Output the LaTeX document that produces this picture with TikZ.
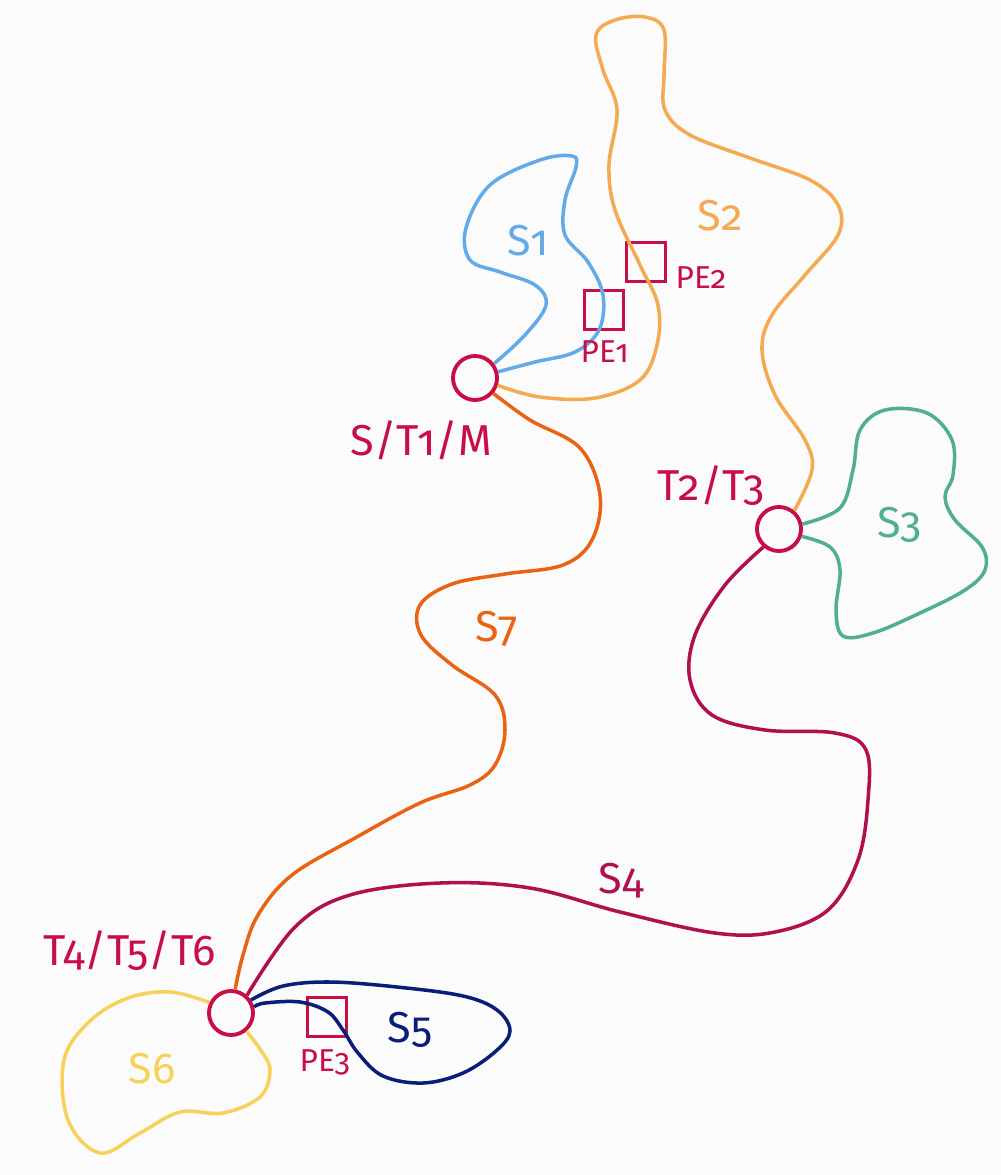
\documentclass[tikz,border=0pt]{standalone}
\usepackage{fontspec}
\setmainfont{Fira Sans}[Numbers=OldStyle]
\usetikzlibrary{positioning}
\definecolor{pered}{RGB}{200,14,70}
\definecolor{sfour}{RGB}{176,16,80}
\definecolor{sone}{RGB}{100,170,230}
\definecolor{stwo}{RGB}{244,170,80}
\definecolor{sthree}{RGB}{80,175,145}
\definecolor{sfive}{RGB}{10,30,120}
\definecolor{ssix}{RGB}{247,210,90}
\definecolor{sseven}{RGB}{232,100,20}
\definecolor{bgcol}{RGB}{251,251,251}

\tikzset{
  hub/.style={circle, draw=pered, line width=1.1pt, minimum size=0.44cm, inner sep=0pt},
  pebox/.style={rectangle, draw=pered, line width=0.9pt, minimum size=0.39cm, inner sep=0pt},
  seg/.style={line width=1pt, smooth, tension=0.6},
  biglbl/.style={anchor=base west, inner sep=0pt, font=\fontsize{12.3}{14}\selectfont},
  smalllbl/.style={anchor=base west, inner sep=0pt, text=pered, font=\fontsize{9}{11}\selectfont}
}

\begin{document}
\begin{tikzpicture}[x=0.01cm, y=-0.01cm]
\fill[bgcol] (0,0) rectangle (1001,1175);
\useasboundingbox (0,0) rectangle (1001,1175);

% hubs and process equipment
\node[hub] (stm) at (475,378) {};
\node[hub] (ttwo) at (779,529) {};
\node[hub] (tfour) at (231,1013) {};
\node[pebox] (peone) at (604,310) {};
\node[pebox] (petwo) at (646,262) {};
\node[pebox] (pethree) at (327,1017) {};

% segments
\draw[seg, sone] plot coordinates {(stm.37) (525,335) (546,305) (535,285) (500,272) (470,260) (466,228) (490,185) (540,160) (572,156) (576,167) (565,200) (565,235) (588,262) (603,295) (599,330) (575,352) (535,362) (stm.15)};
\draw[seg, stwo] plot coordinates {(stm.-18) (540,397) (595,398) (640,380) (657,345) (658,305) (640,265) (615,210) (609,165) (617,110) (603,70) (596,35) (615,20) (645,17) (664,30) (664,75) (665,110) (690,135) (750,158) (810,180) (838,205) (838,235) (805,275) (772,315) (762,350) (775,395) (805,440) (812,470) (ttwo.50)};
\draw[seg, sthree] plot coordinates {(ttwo.12) (840,508) (853,470) (860,430) (885,410) (927,413) (952,440) (953,475) (945,497) (955,520) (982,547) (985,570) (965,590) (920,613) (873,633) (843,636) (836,610) (840,570) (830,547) (ttwo.-18)};
\draw[seg, sfour] plot coordinates {(ttwo.229) (725,585) (695,635) (690,680) (712,715) (765,730) (835,733) (866,750) (868,800) (858,860) (828,910) (775,932) (715,933) (620,912) (530,888) (440,883) (350,895) (295,927) (tfour.48)};
\draw[seg, sseven] plot coordinates {(stm.-40) (530,420) (580,448) (600,495) (592,540) (563,565) (505,574) (452,584) (420,605) (421,635) (452,665) (495,695) (505,730) (495,765) (470,785) (420,803) (355,838) (292,875) (258,915) (243,955) (tfour.80)};
\draw[seg, sfive] plot coordinates {(tfour.33) (283,986) (330,982) (397,987) (463,996) (497,1010) (510,1031) (496,1051) (463,1073) (423,1083) (383,1076) (358,1053) (343,1030) (328,1012) (300,1002) (265,1003) (tfour.15)};
\draw[seg, ssix] plot coordinates {(tfour.154) (170,992) (128,998) (90,1021) (64,1060) (68,1120) (100,1153) (140,1133) (180,1112) (223,1113) (260,1097) (270,1070) (260,1049) (tfour.-50)};

% labels
\node[biglbl, text=sone] (lone) at (507,255) {S1};
\node[biglbl, text=stwo] (ltwo) at (697,230) {S2};
\node[biglbl, text=sthree] (lthree) at (877,537) {S3};
\node[biglbl, text=sfour] (lfour) at (598,893) {S4};
\node[biglbl, text=sfive] (lfive) at (387,1042) {S5};
\node[biglbl, text=ssix] (lsix) at (128,1083) {S6};
\node[biglbl, text=sseven] (lseven) at (475,641) {S7};
\node[biglbl, text=pered] (lstm) at (350,455) {S/T1/M};
\node[biglbl, text=pered] (lttwo) at (657,500) {T2/T3};
\node[biglbl, text=pered] (ltfour) at (43,965) {T4/T5/T6};
\node[smalllbl] (lpeone) at (580,362) {PE1};
\node[smalllbl] (lpetwo) at (675,288) {PE2};
\node[smalllbl] (lpethree) at (299,1071) {PE3};
\end{tikzpicture}
\end{document}
